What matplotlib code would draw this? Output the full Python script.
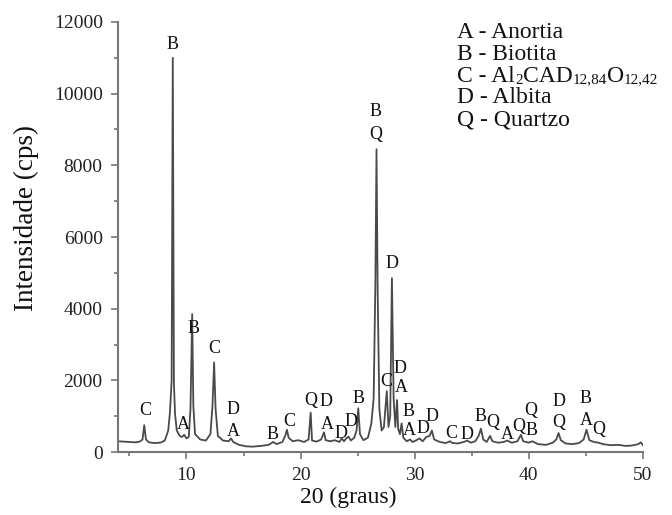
import matplotlib
matplotlib.use('Agg')
import matplotlib.pyplot as plt
from matplotlib.ticker import MultipleLocator

plt.rcParams['font.family'] = ['Liberation Serif', 'DejaVu Serif']

# difratograma (2theta, intensidade)
two_theta = [4.0, 4.5, 5.0, 5.5, 5.9, 6.15, 6.3, 6.45, 6.7, 7.2, 7.7, 8.1, 8.4, 8.55, 8.7,
             8.8, 8.9, 9.0, 9.15, 9.4, 9.6, 9.8, 10.0, 10.2, 10.35, 10.5, 10.6, 10.75,
             11.2, 11.7, 12.1, 12.28, 12.42, 12.55, 12.75, 13.2, 13.7, 13.9, 14.1, 14.6,
             15.2, 15.8, 16.5, 17.2, 17.6, 17.9, 18.4, 18.65, 18.8, 18.95, 19.3, 19.8,
             20.3, 20.7, 20.88, 21.0, 21.4, 21.8, 22.05, 22.2, 22.6, 23.0, 23.4, 23.6,
             23.8, 24.0, 24.2, 24.4, 24.7, 24.9, 25.05, 25.2, 25.5, 25.9, 26.2, 26.4,
             26.55, 26.65, 26.75, 26.9, 27.1, 27.3, 27.45, 27.55, 27.7, 27.85, 28.0,
             28.15, 28.3, 28.45, 28.55, 28.7, 28.85, 29.0, 29.3, 29.6, 29.8, 30.1, 30.4,
             30.7, 31.0, 31.3, 31.5, 31.7, 32.2, 32.7, 33.1, 33.3, 33.8, 34.3, 34.6,
             34.9, 35.3, 35.6, 35.8, 36.0, 36.3, 36.6, 36.8, 37.3, 37.8, 38.1, 38.5,
             39.0, 39.3, 39.5, 40.0, 40.3, 40.8, 41.5, 42.1, 42.4, 42.6, 42.8, 43.2,
             43.8, 44.4, 44.8, 45.05, 45.3, 45.7, 46.1, 46.5, 47.2, 47.8, 48.5, 49.0,
             49.6, 49.8, 50.0]
intensidade = [300, 290, 280, 270, 290, 350, 750, 350, 270, 250, 260, 320, 600, 1100, 2000,
               11000, 1900, 1050, 600, 450, 420, 480, 380, 420, 1200, 3850, 1300, 500,
               350, 320, 500, 1300, 2500, 1200, 450, 320, 300, 380, 280, 200,
               160, 150, 170, 200, 280, 220, 280, 450, 620, 400, 300, 330,
               280, 350, 1100, 320, 290, 350, 550, 330, 300, 330, 280, 380,
               300, 380, 430, 320, 400, 600, 1220, 500, 330, 400, 800, 1500,
               4700, 8450, 4500, 1200, 600, 700, 1300, 1700, 700, 1000, 4850,
               1500, 700, 1450, 650, 500, 800, 400, 300, 350, 280, 320, 380,
               300, 420, 450, 600, 350, 280, 250, 300, 250, 240, 280, 320,
               260, 300, 450, 650, 350, 280, 450, 300, 260, 280, 320, 260,
               300, 480, 300, 260, 300, 220, 200, 260, 350, 530, 330, 240,
               220, 250, 350, 620, 330, 280, 260, 220, 190, 200, 170, 180,
               220, 270, 190]

# identificacao das fases (letra, 2theta, altura do rotulo)
fase_letra = ['B', 'C', 'A', 'B', 'C', 'D', 'A', 'B', 'C', 'Q', 'D', 'A', 'D', 'D', 'B',
              'B', 'Q', 'D', 'C', 'D', 'A', 'B', 'A', 'D', 'D', 'C', 'D', 'B', 'Q',
              'A', 'Q', 'B', 'Q', 'D', 'Q', 'B', 'A', 'Q']
fase_x = [8.82, 6.37, 9.7, 10.58, 12.4, 14.1, 14.1, 17.5, 19.0, 20.85, 22.25, 22.3, 23.5,
          24.4, 25.05, 26.6, 26.6, 28.05, 27.5, 28.7, 28.8, 29.45, 29.5, 30.7, 31.55,
          33.2, 34.6, 35.75, 36.8, 38.1, 39.1, 40.2, 40.2, 42.6, 42.6, 45.0, 45.0, 46.1]
fase_y = [11360, 1145, 780, 3460, 2875, 1200, 560, 500, 840, 1450, 1400, 780, 520,
          850, 1480, 9490, 8850, 5250, 1980, 2320, 1790, 1120, 590, 670, 980,
          530, 500, 1000, 810, 500, 725, 610, 1170, 1420, 810, 1500, 890, 640]

legenda = ['A - Anortia', 'B - Biotita', None, 'D - Albita', 'Q - Quartzo']
# linha C com indices pequenos: (texto, tamanho)
legenda_c = [('C - Al', 17), ('2', 11), ('CAD', 17), ('12,84', 11), ('O', 17), ('12,42', 11)]

fig = plt.figure(figsize=(6.72, 5.15), dpi=100)
ax = fig.add_axes([0.1756, 0.1223, 0.78125, 0.835])

ax.plot(two_theta, intensidade, color='#4a4a4a', linewidth=1.3)

for letra, x, y in zip(fase_letra, fase_x, fase_y):
    ax.text(x, y, letra, ha='center', va='center', fontsize=13, color='#111111')

for i, texto in enumerate(legenda):
    y0 = 0.963 - i * 0.0508
    if texto is not None:
        ax.text(0.646, y0, texto, transform=ax.transAxes,
                ha='left', va='baseline', fontsize=17, color='#111111')
    else:
        prev = ax.text(0.646, y0, legenda_c[0][0], transform=ax.transAxes,
                       ha='left', va='baseline', fontsize=legenda_c[0][1], color='#111111')
        for parte, tam in legenda_c[1:]:
            prev = ax.annotate(parte, xy=(1, 0), xycoords=prev, ha='left', va='bottom',
                               fontsize=tam, color='#111111')

ax.set_xlim(4, 50)
ax.set_ylim(0, 12000)
ax.xaxis.set_major_locator(MultipleLocator(10))
ax.xaxis.set_minor_locator(MultipleLocator(5))
ax.yaxis.set_major_locator(MultipleLocator(2000))
ax.yaxis.set_minor_locator(MultipleLocator(1000))

for lado in ['top', 'right']:
    ax.spines[lado].set_visible(False)
for lado in ['left', 'bottom']:
    ax.spines[lado].set_color('#777777')
    ax.spines[lado].set_linewidth(1.5)

ax.tick_params(which='both', color='#777777', width=1.2, labelsize=14, labelcolor='#222222')
ax.tick_params(which='major', length=5, pad=6)
ax.tick_params(which='minor', length=3)

ax.set_xlabel('20 (graus)', fontsize=17, color='#111111')
ax.set_ylabel('Intensidade (cps)', fontsize=19.5, color='#111111')
ax.xaxis.set_label_coords(0.438, -0.08)
ax.yaxis.set_label_coords(-0.15, 0.544)

fig.savefig('out.png', dpi=100)
